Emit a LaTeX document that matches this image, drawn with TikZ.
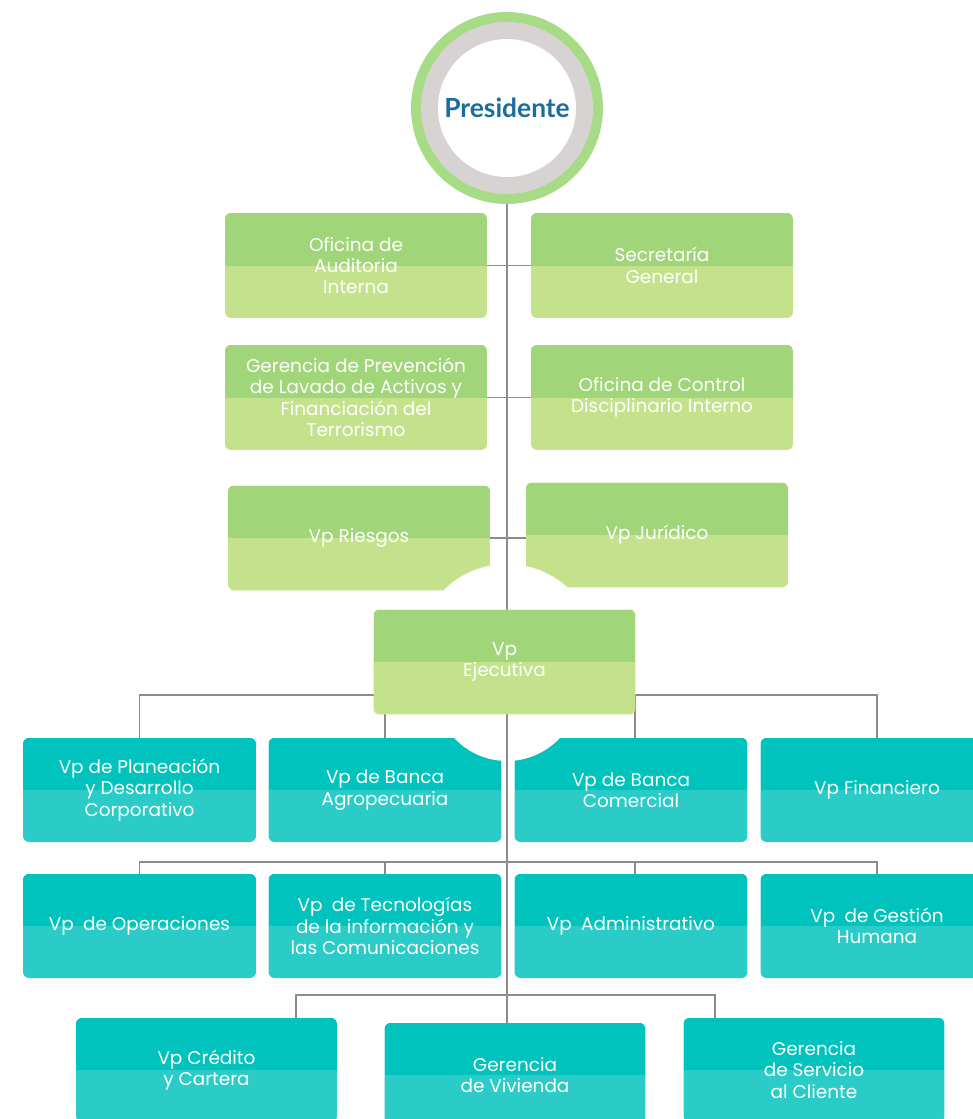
\documentclass[tikz,border=0pt]{standalone}
\usepackage{fontspec}
\newfontfamily\boxfont{Poppins}
\newfontfamily\presfont{Lato}
\usetikzlibrary{calc}
\definecolor{greenTop}{HTML}{A1D57A}
\definecolor{greenLow}{HTML}{C4E18C}
\definecolor{tealTop}{HTML}{00C3BD}
\definecolor{tealLow}{HTML}{2BCBC7}
\definecolor{presGreen}{HTML}{A8DB86}
\definecolor{presGray}{HTML}{D6D3D2}
\definecolor{presBlue}{HTML}{1A6E9A}
\definecolor{lineGray}{HTML}{8C8C8C}
\tikzset{
	conn/.style={draw=lineGray, line width=0.8pt},
	orgbox/.style={rectangle, rounded corners=0.12cm, inner sep=0pt, align=center, text=white, font=\boxfont\fontsize{10.5}{12.2}\selectfont},
	greenbox/.style={orgbox, minimum width=5.24cm, minimum height=2.1cm, fill=greenLow, path picture={\fill[greenTop, sharp corners] (path picture bounding box.north west) rectangle (path picture bounding box.east);}},
	tealbox/.style={orgbox, minimum width=4.66cm, minimum height=2.08cm, fill=tealLow, path picture={\fill[tealTop, sharp corners] (path picture bounding box.north west) rectangle (path picture bounding box.east);}},
	widebox/.style={tealbox, minimum width=5.22cm},
	presring/.style={circle, minimum size=3.84cm, inner sep=0pt, fill=presGreen, text=presBlue, font=\presfont\bfseries\fontsize{15}{18}\selectfont, path picture={\fill[presGray] (path picture bounding box.center) circle (1.72cm); \fill[white] (path picture bounding box.center) circle (1.38cm);}}
}

\begin{document}
\begin{tikzpicture}[x=0.02cm, y=-0.02cm]
		%%%%% START %%%%%
		\useasboundingbox (0, 0) rectangle (973, 1119);
		
		\node[presring] (pres) at (507, 108) {Presidente};
		
		\node[greenbox] (audit) at (356, 265.5) {Oficina de\\Auditoria\\Interna};
		\node[greenbox] (secre) at (662, 265.5) {Secretaría\\General};
		\node[greenbox] (lavado) at (356, 397.5) {Gerencia de Prevención\\de Lavado de Activos y\\Financiación del\\Terrorismo};
		\node[greenbox] (control) at (662, 397.5) {Oficina de Control\\Disciplinario Interno};
		\node[greenbox] (riesgos) at (359, 538) {Vp Riesgos};
		\node[greenbox] (juridico) at (657, 535) {Vp Jurídico};
		
		\fill[white] (507, 654) circle (1.8cm);
		
		\node[tealbox] (plan) at (139.5, 790) {Vp de Planeación\\y Desarrollo\\Corporativo};
		\node[tealbox] (agro) at (385, 790) {Vp de Banca\\Agropecuaria};
		\node[tealbox] (comer) at (631, 790) {Vp de Banca\\Comercial};
		\node[tealbox] (finan) at (877, 790) {Vp Financiero};
		
		\fill[white] (507, 689) circle (1.44cm);
		
		\node[tealbox] (oper) at (139.5, 926) {Vp\enspace de Operaciones};
		\node[tealbox] (tecno) at (385, 926) {Vp\enspace de Tecnologías\\de la información y\\las Comunicaciones};
		\node[tealbox] (admin) at (631, 926) {Vp\enspace Administrativo};
		\node[tealbox] (gestion) at (877, 926) {Vp\enspace de Gestión\\Humana};
		
		\node[widebox] (credito) at (206.5, 1070) {Vp Crédito\\y Cartera};
		\node[widebox] (vivienda) at (515, 1075) {Gerencia\\de Vivienda};
		\node[widebox] (servicio) at (814, 1070) {Gerencia\\de Servicio\\al Cliente};
		
		% trunk and side links
		\draw[conn] (pres.south) -- (pres.south |- vivienda.north);
		\draw[conn] (audit.east) -- (secre.west);
		\draw[conn] (lavado.east) -- (control.west);
		\draw[conn] (riesgos.east) -- (riesgos.east -| juridico.west);
		
		\coordinate (busA) at (507, 695);
		\draw[conn] (plan.north) |- (busA) -| (finan.north);
		\draw[conn] (agro.north) |- (busA);
		\draw[conn] ($(comer.north)+(4, 0)$) |- (busA);
		
		\coordinate (busB) at (507, 862);
		\draw[conn] (oper.north) |- (busB) -| (gestion.north);
		\draw[conn] (tecno.north) |- (busB);
		\draw[conn] ($(admin.north)+(4, 0)$) |- (busB);
		
		\coordinate (busC) at (507, 995);
		\draw[conn] ($(credito.north)+(89.5, 0)$) |- (busC) -| ($(servicio.north)+(-99, 0)$);
		
		\node[greenbox] (ejecutiva) at (504.5, 662) {Vp\\Ejecutiva};
		%%%%% END %%%%%
	\end{tikzpicture}
\end{document}
